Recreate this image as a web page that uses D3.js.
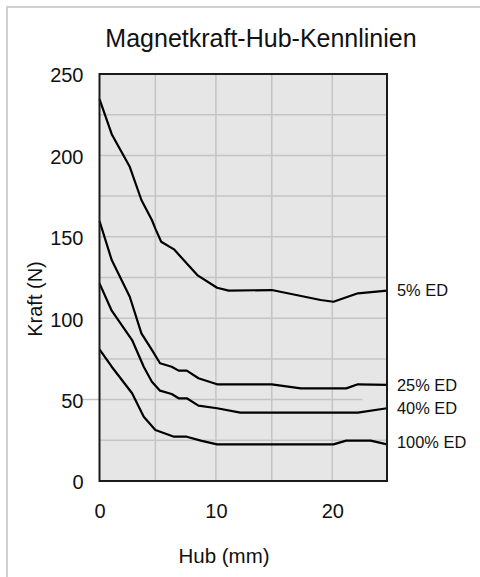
<!DOCTYPE html>
<html><head><meta charset="utf-8">
<script src="https://cdn.jsdelivr.net/npm/d3@7"></script>
<style>
html,body{margin:0;padding:0;background:#fff;}
svg{display:block;font-family:"Liberation Sans",Arial,sans-serif;}
</style></head>
<body>
<svg id="c" width="480" height="577"></svg>
<script>
const title = "Magnetkraft-Hub-Kennlinien";
const xLabel = "Hub (mm)";
const yLabel = "Kraft (N)";
const xTicks = [0, 10, 20];
const yTicks = [0, 50, 100, 150, 200, 250];
const xGrid = [4.8, 10, 14.8, 20];
const yGrid = [25, 50, 75, 100, 125, 150, 175, 200, 225];

const seriesNames = ["5% ED", "25% ED", "40% ED", "100% ED"];
const hub5 =   [0, 1.05, 2.6, 3.6, 4.5, 4.8, 5.3, 6.4, 8.4, 10.1, 11.1, 14.8, 19.0, 20.1, 22.2, 24.7];
const kraft5 = [234.5, 213, 193, 172.6, 160.3, 155, 147, 142.3, 126.5, 118.7, 116.9, 117.3, 111.2, 110.1, 115.3, 116.9];
const hub25 =   [0, 1.05, 2.6, 3.6, 4.5, 5.2, 6.2, 6.8, 7.5, 8.5, 10.1, 14.8, 17.3, 21.2, 22.2, 24.7];
const kraft25 = [159.7, 135.7, 113.2, 90.7, 80.5, 72.3, 70.2, 67.8, 67.8, 63.1, 59.4, 59.4, 56.9, 56.9, 59.4, 59];
const hub40 =   [0, 1.05, 2.8, 3.8, 4.5, 5.2, 6.2, 6.8, 7.5, 8.5, 10.1, 12.1, 22.2, 24.7];
const kraft40 = [121.4, 104.6, 86.6, 70.2, 61, 55.5, 53.4, 50.8, 50.8, 46.3, 44.7, 42, 42, 44.7];
const hub100 =   [0, 1.05, 2.8, 3.8, 4.8, 6.4, 7.5, 8.7, 10.1, 20.1, 21.2, 23.3, 24.7];
const kraft100 = [80.9, 70.2, 53.9, 39.5, 31.3, 27.2, 27.2, 24.8, 22.5, 22.5, 24.8, 24.8, 22.5];
const labelValues = [116.9, 59, 44.7, 23.5];
const strayGrid = {value: 50, from: -1.5, to: 22.6};

const svg = d3.select("#c");
const x = d3.scaleLinear().domain([0, 24.7]).range([99.5, 387]);
const y = d3.scaleLinear().domain([0, 250]).range([481, 74]);

// outer frame
svg.append("rect").attr("x", 7).attr("y", 7).attr("width", 500).attr("height", 600)
  .attr("fill", "none").attr("stroke", "#d0d0d0").attr("stroke-width", 2);

// title
svg.append("text").attr("x", 261).attr("y", 47).attr("text-anchor", "middle")
  .attr("font-size", 25).attr("fill", "#111").text(title);

// plot background
svg.append("rect").attr("x", x(0)).attr("y", y(250))
  .attr("width", x(24.7) - x(0)).attr("height", y(0) - y(250)).attr("fill", "#e6e6e6");

const grid = svg.append("g").attr("stroke", "#c4c4c4").attr("stroke-width", 1.5);
grid.selectAll("line.v").data(xGrid).join("line").attr("class", "v")
  .attr("x1", d => x(d)).attr("x2", d => x(d)).attr("y1", y(0)).attr("y2", y(250));
grid.selectAll("line.h").data(yGrid.filter(v => v !== strayGrid.value)).join("line").attr("class", "h")
  .attr("x1", x(0)).attr("x2", x(24.7)).attr("y1", d => y(d)).attr("y2", d => y(d));
grid.append("line").attr("x1", x(strayGrid.from)).attr("x2", x(strayGrid.to))
  .attr("y1", y(strayGrid.value)).attr("y2", y(strayGrid.value));

// curves
const line = d3.line().x(d => x(d[0])).y(d => y(d[1]));
const series = [[hub5, kraft5], [hub25, kraft25], [hub40, kraft40], [hub100, kraft100]];
series.forEach(([h, k]) => {
  svg.append("path").datum(h.map((v, i) => [v, k[i]])).attr("d", line)
    .attr("fill", "none").attr("stroke", "#000").attr("stroke-width", 2.2)
    .attr("stroke-linejoin", "round");
});

// border
svg.append("rect").attr("x", x(0)).attr("y", y(250))
  .attr("width", x(24.7) - x(0)).attr("height", y(0) - y(250))
  .attr("fill", "none").attr("stroke", "#1a1a1a").attr("stroke-width", 2);

// axes (labels only)
const xAxis = d3.axisBottom(x).tickValues(xTicks).tickSize(0).tickPadding(0);
const gx = svg.append("g").attr("transform", `translate(0,${y(0) + 23})`).call(xAxis);
gx.select(".domain").remove();
gx.selectAll("text").attr("font-size", 20).attr("fill", "#111")
  .attr("font-family", "Liberation Sans, Arial, sans-serif");

const yAxis = d3.axisLeft(y).tickValues(yTicks).tickSize(0).tickPadding(0);
const gy = svg.append("g").attr("transform", `translate(83.5,1.5)`).call(yAxis);
gy.select(".domain").remove();
gy.selectAll("text").attr("font-size", 20).attr("fill", "#111")
  .attr("font-family", "Liberation Sans, Arial, sans-serif");

// series labels
svg.selectAll("text.lab").data(seriesNames).join("text").attr("class", "lab")
  .attr("x", 397).attr("y", (d, i) => y(labelValues[i])).attr("dy", "0.35em")
  .attr("font-size", 16.4).attr("fill", "#111").text(d => d);

// axis titles
svg.append("text").attr("x", 224).attr("y", 563).attr("text-anchor", "middle")
  .attr("font-size", 20.5).attr("fill", "#111").text(xLabel);
svg.append("text").attr("transform", "translate(41.5,299) rotate(-90)").attr("text-anchor", "middle")
  .attr("font-size", 20).attr("fill", "#111").text(yLabel);
</script>
</body></html>
